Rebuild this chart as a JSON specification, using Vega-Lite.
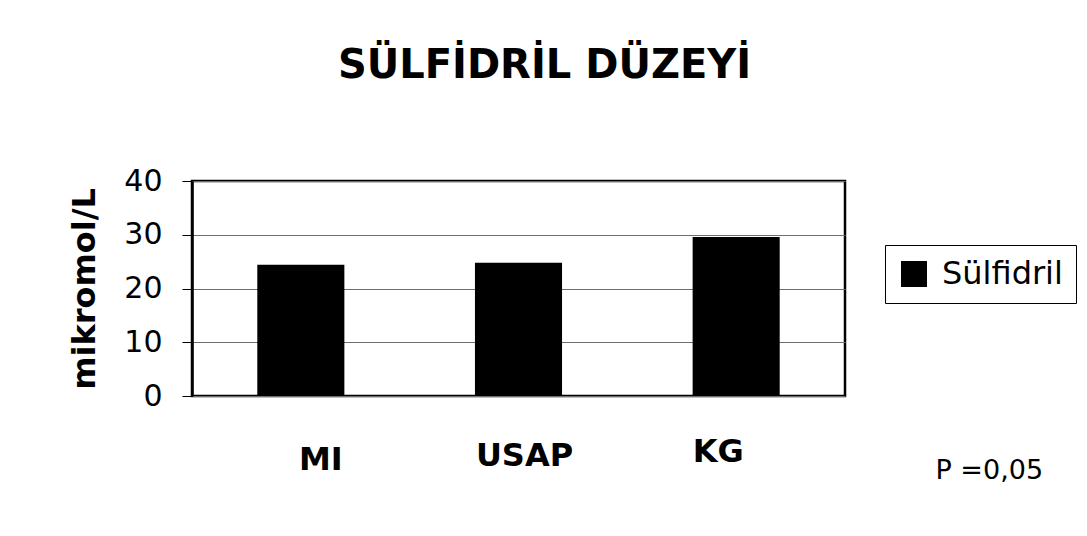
{
  "$schema": "https://vega.github.io/schema/vega-lite/v6.json",
  "width": 653,
  "height": 215,
  "autosize": {"type": "none"},
  "padding": {"left": 192, "top": 181, "right": 242, "bottom": 140},
  "background": "white",
  "title": {
    "text": "SÜLFİDRİL DÜZEYİ",
    "font": "DejaVu Sans",
    "fontSize": 40,
    "fontWeight": "bold",
    "color": "black",
    "anchor": "middle",
    "offset": 80,
    "dx": 26
  },
  "data": {
    "values": [
      {"group": "MI", "value": 24.4, "series": "Sülfidril"},
      {"group": "USAP", "value": 24.8, "series": "Sülfidril"},
      {"group": "KG", "value": 29.6, "series": "Sülfidril"}
    ]
  },
  "mark": {"type": "bar", "color": "black"},
  "encoding": {
    "x": {
      "field": "group",
      "type": "nominal",
      "sort": null,
      "scale": {"paddingInner": 0.6, "paddingOuter": 0.3},
      "axis": {
        "title": "P =0,05",
        "titleFont": "DejaVu Sans",
        "titleFontSize": 27,
        "titleFontWeight": "normal",
        "titleColor": "black",
        "titleX": 743,
        "titleY": 82,
        "titleAlign": "left",
        "titleBaseline": "alphabetic",
        "titleAnchor": null,
        "labelFont": "DejaVu Sans",
        "labelFontWeight": "bold",
        "labelFontSize": 32,
        "labelColor": "black",
        "labelPadding": {"condition": [{"test": "datum.value === 'MI'", "value": 48}, {"test": "datum.value === 'KG'", "value": 40}], "value": 44},
        "labelOffset": {"condition": [{"test": "datum.value === 'MI'", "value": 20}, {"test": "datum.value === 'KG'", "value": -18}], "value": 6},
        "labelAngle": 0,
        "ticks": false,
        "domain": false,
        "grid": false
      }
    },
    "y": {
      "field": "value",
      "type": "quantitative",
      "scale": {"domain": [0, 40]},
      "axis": {
        "values": [0, 10, 20, 30, 40],
        "title": "mikromol/L",
        "titleFont": "DejaVu Sans",
        "titleFontSize": 32,
        "titleFontWeight": "bold",
        "titleColor": "black",
        "titlePadding": 22,
        "labelFont": "DejaVu Sans",
        "labelFontSize": 30,
        "labelColor": "black",
        "labelPadding": 20,
        "tickColor": "black",
        "tickSize": 10,
        "domainColor": "black",
        "domainWidth": 2.5,
        "grid": true,
        "gridColor": "#6e6e6e",
        "gridWidth": 1
      }
    },
    "color": {
      "field": "series",
      "type": "nominal",
      "scale": {"range": ["black"]},
      "legend": {
        "title": null,
        "orient": "none",
        "legendX": 693,
        "legendY": 64,
        "strokeColor": "black",
        "padding": 13,
        "symbolType": "square",
        "symbolSize": 676,
        "symbolStrokeWidth": 0,
        "labelFont": "DejaVu Sans",
        "labelFontSize": 32,
        "labelColor": "black",
        "labelOffset": 12
      }
    }
  },
  "config": {
    "view": {"stroke": "black", "strokeWidth": 2.5}
  }
}
